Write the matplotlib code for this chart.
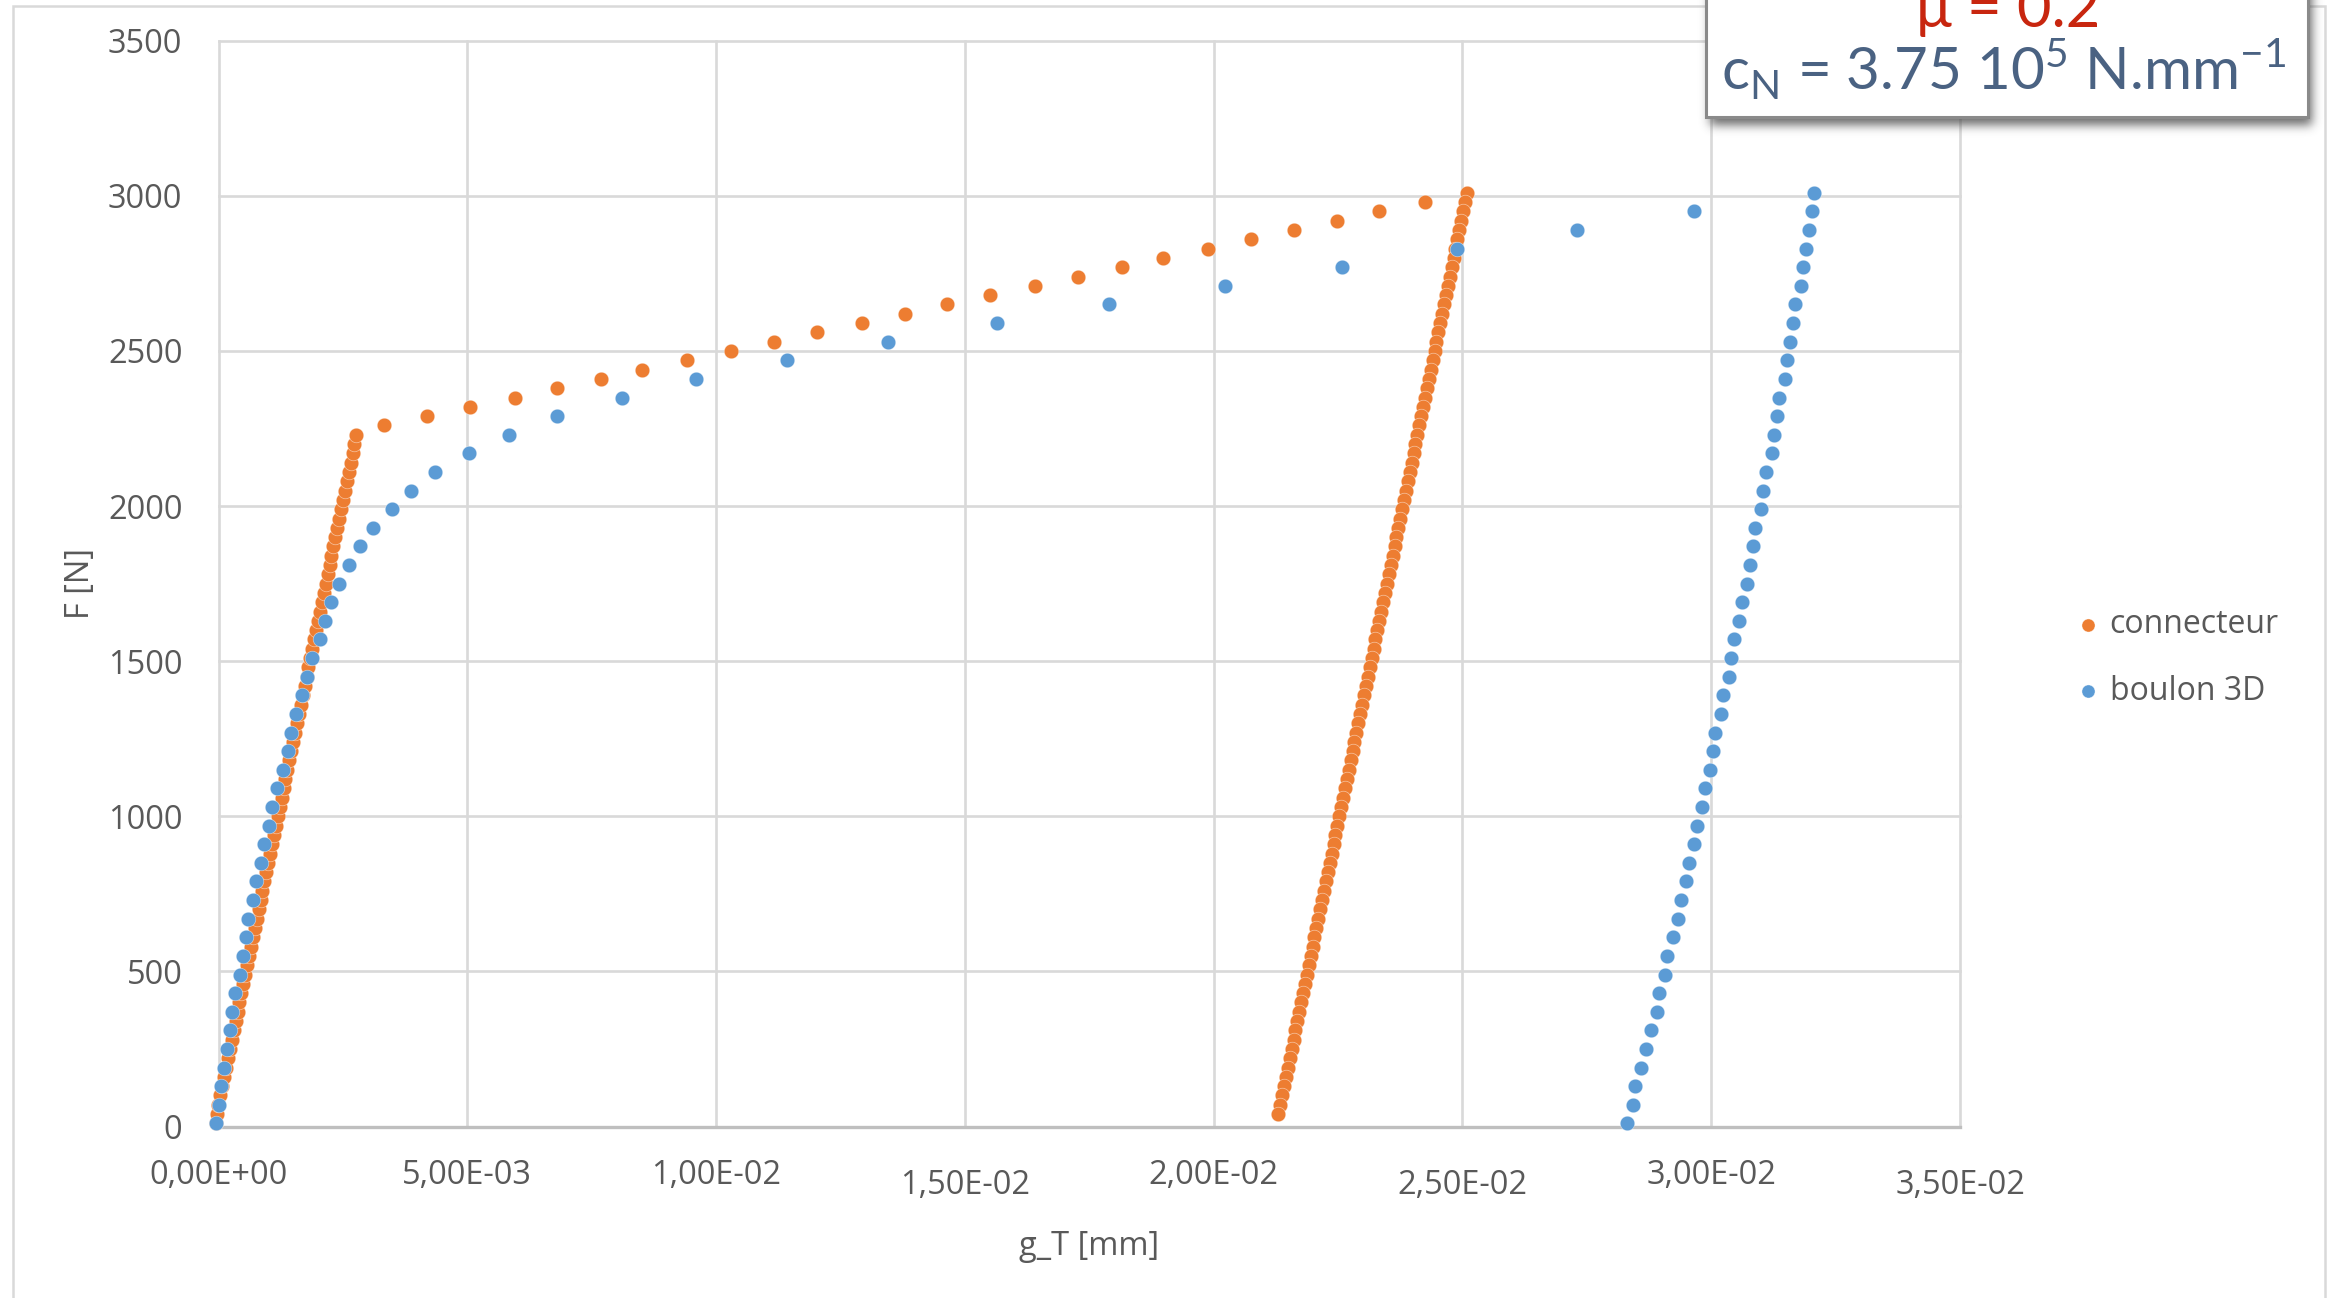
import numpy as np
import matplotlib
matplotlib.use("Agg")
import matplotlib.pyplot as plt
from matplotlib.patches import Rectangle
from matplotlib.ticker import FuncFormatter, MultipleLocator

plt.rcParams['font.family'] = ['Open Sans', 'DejaVu Sans']

# ---------------- data : F [N] versus g_T [mm] ----------------
# connecteur : elastic loading, hardening, unloading
conn_load_F = [10, 40, 70, 100, 130, 160, 190, 220, 250, 280, 310, 340, 370, 400, 430,
               460, 490, 520, 550, 580, 610, 640, 670, 700, 730, 760, 790, 820, 850, 880,
               910, 940, 970, 1000, 1030, 1060, 1090, 1120, 1150, 1180, 1210, 1240, 1270,
               1300, 1330, 1360, 1390, 1420, 1450, 1480, 1510, 1540, 1570, 1600, 1630, 1660,
               1690, 1720, 1750, 1780, 1810, 1840, 1870, 1900, 1930, 1960, 1990, 2020, 2050,
               2080, 2110, 2140, 2170, 2200, 2230]
conn_load_g = [-0.000060, -0.000040, -0.000002, 0.000037, 0.000076, 0.000114, 0.000153,
               0.000191, 0.000230, 0.000268, 0.000307, 0.000345, 0.000384, 0.000422,
               0.000461, 0.000499, 0.000538, 0.000576, 0.000615, 0.000653, 0.000692,
               0.000730, 0.000769, 0.000807, 0.000846, 0.000884, 0.000923, 0.000961,
               0.001000, 0.001038, 0.001077, 0.001115, 0.001154, 0.001192, 0.001231,
               0.001269, 0.001308, 0.001346, 0.001385, 0.001423, 0.001462, 0.001500,
               0.001539, 0.001577, 0.001616, 0.001654, 0.001693, 0.001731, 0.001770,
               0.001808, 0.001847, 0.001885, 0.001924, 0.001962, 0.002001, 0.002039,
               0.002078, 0.002116, 0.002155, 0.002193, 0.002232, 0.002270, 0.002309,
               0.002347, 0.002386, 0.002424, 0.002463, 0.002501, 0.002540, 0.002578,
               0.002617, 0.002655, 0.002694, 0.002732, 0.002771]
conn_hard_F = [2260, 2290, 2320, 2350, 2380, 2410, 2440, 2470, 2500, 2530, 2560, 2590, 2620,
               2650, 2680, 2710, 2740, 2770, 2800, 2830, 2860, 2890, 2920, 2950, 2980, 3010]
conn_hard_g = [0.003326, 0.004188, 0.005045, 0.005950, 0.006809, 0.007680, 0.008520,
               0.009420, 0.010290, 0.011160, 0.012030, 0.012930, 0.013800, 0.014640,
               0.015510, 0.016410, 0.017280, 0.018150, 0.018990, 0.019884, 0.020754,
               0.021608, 0.022469, 0.023330, 0.024237, 0.025089]
conn_unload_F = [2980, 2950, 2920, 2890, 2860, 2830, 2800, 2770, 2740, 2710, 2680, 2650,
                 2620, 2590, 2560, 2530, 2500, 2470, 2440, 2410, 2380, 2350, 2320, 2290,
                 2260, 2230, 2200, 2170, 2140, 2110, 2080, 2050, 2020, 1990, 1960, 1930,
                 1900, 1870, 1840, 1810, 1780, 1750, 1720, 1690, 1660, 1630, 1600, 1570,
                 1540, 1510, 1480, 1450, 1420, 1390, 1360, 1330, 1300, 1270, 1240, 1210,
                 1180, 1150, 1120, 1090, 1060, 1030, 1000, 970, 940, 910, 880, 850, 820,
                 790, 760, 730, 700, 670, 640, 610, 580, 550, 520, 490, 460, 430, 400, 370,
                 340, 310, 280, 250, 220, 190, 160, 130, 100, 70, 40]
conn_unload_g = [0.025051, 0.025012, 0.024974, 0.024936, 0.024898, 0.024859, 0.024821,
                 0.024783, 0.024744, 0.024706, 0.024668, 0.024629, 0.024591, 0.024553,
                 0.024515, 0.024476, 0.024438, 0.024400, 0.024361, 0.024323, 0.024285,
                 0.024246, 0.024208, 0.024170, 0.024132, 0.024093, 0.024055, 0.024017,
                 0.023978, 0.023940, 0.023902, 0.023863, 0.023825, 0.023787, 0.023749,
                 0.023710, 0.023672, 0.023634, 0.023595, 0.023557, 0.023519, 0.023480,
                 0.023442, 0.023404, 0.023366, 0.023327, 0.023289, 0.023251, 0.023212,
                 0.023174, 0.023136, 0.023097, 0.023059, 0.023021, 0.022983, 0.022944,
                 0.022906, 0.022868, 0.022829, 0.022791, 0.022753, 0.022714, 0.022676,
                 0.022638, 0.022600, 0.022561, 0.022523, 0.022485, 0.022446, 0.022408,
                 0.022370, 0.022331, 0.022293, 0.022255, 0.022217, 0.022178, 0.022140,
                 0.022102, 0.022063, 0.022025, 0.021987, 0.021948, 0.021910, 0.021872,
                 0.021834, 0.021795, 0.021757, 0.021719, 0.021680, 0.021642, 0.021604,
                 0.021565, 0.021527, 0.021489, 0.021451, 0.021412, 0.021374, 0.021336,
                 0.021297]

# boulon 3D : loading then unloading
boulon_load_F = [10, 70, 130, 190, 250, 310, 370, 430, 490, 550, 610, 670, 730, 790, 850,
                 910, 970, 1030, 1090, 1150, 1210, 1270, 1330, 1390, 1450, 1510, 1570, 1630,
                 1690, 1750, 1810, 1870, 1930, 1990, 2050, 2110, 2170, 2230, 2290, 2350,
                 2410, 2470, 2530, 2590, 2650, 2710, 2770, 2830, 2890, 2950]
boulon_load_g = [-0.000056, 0.000010, 0.000050, 0.000111, 0.000165, 0.000231, 0.000271,
                 0.000326, 0.000432, 0.000486, 0.000547, 0.000599, 0.000699, 0.000754,
                 0.000860, 0.000914, 0.001021, 0.001075, 0.001182, 0.001290, 0.001397,
                 0.001451, 0.001557, 0.001672, 0.001772, 0.001879, 0.002040, 0.002146,
                 0.002255, 0.002416, 0.002629, 0.002844, 0.003111, 0.003487, 0.003862,
                 0.004351, 0.005040, 0.005844, 0.006809, 0.008099, 0.009598, 0.011425,
                 0.013460, 0.015647, 0.017893, 0.020218, 0.022577, 0.024884, 0.027295,
                 0.029658]
boulon_unload_F = [3010, 2950, 2890, 2830, 2770, 2710, 2650, 2590, 2530, 2470, 2410, 2350,
                   2290, 2230, 2170, 2110, 2050, 1990, 1930, 1870, 1810, 1750, 1690, 1630,
                   1570, 1510, 1450, 1390, 1330, 1270, 1210, 1150, 1090, 1030, 970, 910,
                   850, 790, 730, 670, 610, 550, 490, 430, 370, 310, 250, 190, 130, 70, 10]
boulon_unload_g = [0.032070, 0.032017, 0.031957, 0.031903, 0.031849, 0.031803, 0.031689,
                   0.031636, 0.031582, 0.031528, 0.031475, 0.031367, 0.031314, 0.031260,
                   0.031213, 0.031099, 0.031045, 0.030999, 0.030884, 0.030838, 0.030778,
                   0.030724, 0.030617, 0.030563, 0.030456, 0.030402, 0.030350, 0.030241,
                   0.030189, 0.030080, 0.030028, 0.029974, 0.029873, 0.029819, 0.029706,
                   0.029658, 0.029545, 0.029490, 0.029384, 0.029330, 0.029224, 0.029115,
                   0.029069, 0.028954, 0.028902, 0.028794, 0.028687, 0.028580, 0.028472,
                   0.028419, 0.028311]

series_names = ['connecteur', 'boulon 3D']
series_colors = ['#ED7D31', '#5B9BD5']

conn_g = conn_load_g + conn_hard_g + conn_unload_g
conn_F = conn_load_F + conn_hard_F + conn_unload_F
boulon_g = boulon_load_g + boulon_unload_g
boulon_F = boulon_load_F + boulon_unload_F

# ---------------- figure ----------------
W, H, DPI = 2337, 1298, 100
fig = plt.figure(figsize=(W / DPI, H / DPI), dpi=DPI)
fig.patch.set_facecolor('white')


def fx(px):
    return px / W


def fy(py):
    return 1 - py / H


TXT = '#595959'
GRID = '#d9d9d9'

# chart area outline
fig.add_artist(Rectangle((fx(13), -0.2), fx(2325) - fx(13), fy(6) + 0.2,
                         transform=fig.transFigure, fill=False, ec=GRID, lw=1.8,
                         zorder=-1))

ax = fig.add_axes([fx(218.5), fy(1126.5), fx(1960.1) - fx(218.5), fy(40.8) - fy(1126.5)])
ax.set_xlim(0, 0.035)
ax.set_ylim(0, 3500)
ax.xaxis.set_major_locator(MultipleLocator(0.005))
ax.yaxis.set_major_locator(MultipleLocator(500))


def sci_comma(v, pos):
    if abs(v) < 1e-12:
        v = 0.0
    return f"{v:.2E}".replace('.', ',')


ax.xaxis.set_major_formatter(FuncFormatter(sci_comma))
ax.grid(True, color=GRID, lw=1.9)
ax.set_axisbelow(True)
for s in ['top', 'right', 'left']:
    ax.spines[s].set_visible(False)
ax.spines['bottom'].set_color('#bfbfbf')
ax.spines['bottom'].set_linewidth(2.4)
ax.tick_params(length=0, labelsize=23.5, labelcolor=TXT)
ax.tick_params(axis='y', pad=26)
ax.tick_params(axis='x', pad=23.5)
for gl in ax.get_xgridlines() + ax.get_ygridlines():
    gl.set_clip_on(False)

sc1 = ax.scatter(conn_g, conn_F, s=110, c=series_colors[0], edgecolors=(1, 1, 1, 0.55),
                 linewidths=0.5, clip_on=False, zorder=3, label=series_names[0])
sc2 = ax.scatter(boulon_g, boulon_F, s=110, c=series_colors[1], edgecolors=(1, 1, 1, 0.55),
                 linewidths=0.5, clip_on=False, zorder=4, label=series_names[1])

ax.set_ylabel('F [N]', fontsize=23.5, color=TXT)
ax.yaxis.set_label_coords(-0.070, 0.5)
ax.set_xlabel('g_T [mm]', fontsize=23.5, color=TXT)
ax.xaxis.set_label_coords(0.5, -0.0955)

leg = ax.legend(handles=[sc1, sc2], loc='center left',
                bbox_to_anchor=(fx(2075), fy(658)), bbox_transform=fig.transFigure,
                frameon=False, fontsize=23, handlelength=0.8, handletextpad=0.28,
                borderpad=0, borderaxespad=0, labelspacing=1.05, scatterpoints=1,
                markerscale=0.9)
for t in leg.get_texts():
    t.set_color(TXT)

# ---------------- annotation box with soft shadow ----------------
bx0, bx1, by1 = 1706, 2308, 117
sx0, sw, sh, pad = 1680, 660, 170, 40
mask = np.zeros((sh + pad, sw))
mask[:pad + by1 + 8, bx0 + 4 - sx0:bx1 + 4 - sx0] = 1.0
sig = 5.0
kx = np.arange(-15, 16)
ker = np.exp(-kx ** 2 / (2 * sig ** 2))
ker /= ker.sum()
blur = np.apply_along_axis(lambda r: np.convolve(r, ker, mode='same'), 1, mask)
blur = np.apply_along_axis(lambda c: np.convolve(c, ker, mode='same'), 0, blur)
blur = blur[pad:]
shadow = np.zeros((sh, sw, 4))
shadow[..., :3] = 0.28
shadow[..., 3] = 0.8 * blur
fig.figimage(shadow, xo=sx0, yo=H - sh, origin='upper', zorder=5)

fig.add_artist(Rectangle((fx(bx0), fy(by1)), fx(bx1) - fx(bx0), 0.2,
                         transform=fig.transFigure, fc='white', ec='#8a8a8a', lw=2.2,
                         zorder=6))

fig.text(fx(2008), fy(27), 'μ = 0.2', ha='center', va='baseline', fontsize=43,
         color='#c8260f', family=['Lato', 'DejaVu Sans'], zorder=8)
fig.text(fx(2004), fy(90),
         r'c$_\mathregular{N}$ = 3.75 10$^\mathregular{5}$ N.mm$^\mathregular{-1}$',
         ha='center', va='baseline', fontsize=42, color='#4a6282',
         family=['Lato', 'DejaVu Sans'], zorder=8)

# every other x label sits a little lower (1,50E-02, 2,50E-02, 3,50E-02)
fig.canvas.draw()
for t in ax.xaxis.get_major_ticks():
    loc = t.get_loc()
    if loc is not None and any(abs(loc - v) < 1e-9 for v in (0.015, 0.025, 0.035)):
        t.set_pad(23.5 + 6.8)

fig.savefig('out.png', dpi=DPI)
